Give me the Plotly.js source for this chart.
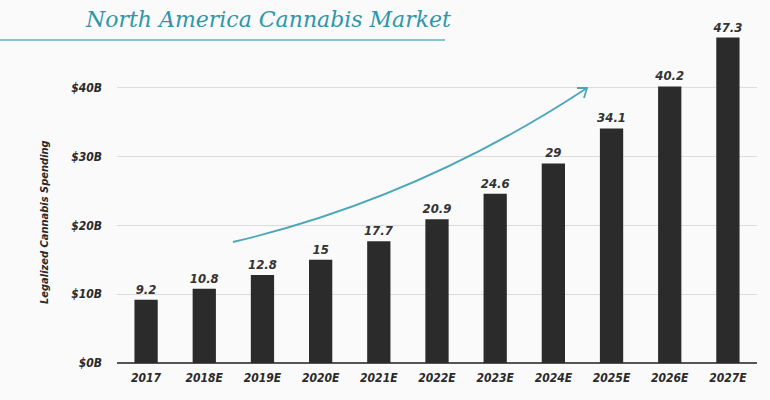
<!DOCTYPE html>
<html><head><meta charset="utf-8">
<script src="https://cdn.plot.ly/plotly-3.0.1.min.js"></script>
<style>html,body{margin:0;padding:0;background:#fafafa;}</style>
</head><body>
<div id="chart" style="width:770px;height:400px;"></div>
<script>
const years = ["2017","2018E","2019E","2020E","2021E","2022E","2023E","2024E","2025E","2026E","2027E"];
const spending = [9.2,10.8,12.8,15,17.7,20.9,24.6,29,34.1,40.2,47.3];
const labels = ["9.2","10.8","12.8","15","17.7","20.9","24.6","29","34.1","40.2","47.3"];
const yTicks = [0,10,20,30,40];
const yTickText = ["$0B","$10B","$20B","$30B","$40B"];

const L=117, R=757, T=19, B=363;
const px = x => (x-L)/(R-L);
const py = y => (B-y)/(B-T);

const fnt = {family:"DejaVu Sans Condensed, Liberation Sans Narrow, sans-serif", weight:"bold", style:"italic", color:"#2a2a2a"};

const curve = `M ${px(233)} ${py(242)} Q ${px(420)} ${py(198)} ${px(587)} ${py(88)}`;
const head = `M ${px(577)} ${py(88)} L ${px(587)} ${py(88)} L ${px(584)} ${py(98)}`;

Plotly.newPlot("chart",[{
  type:"bar", x:years, y:spending, text:labels, textposition:"outside", constraintext:"none",
  textfont:Object.assign({}, fnt, {size:13, color:"#333"}),
  marker:{color:"#2b2b2b"}, cliponaxis:false, hoverinfo:"skip"
}],{
  width:770, height:400,
  margin:{l:L, r:770-R, t:T, b:400-B},
  paper_bgcolor:"#fafafa", plot_bgcolor:"rgba(0,0,0,0)",
  bargap:0.6, showlegend:false,
  xaxis:{type:"category", showgrid:false, zeroline:false, showline:false,
    ticks:"", ticklabelstandoff:6, tickfont:Object.assign({}, fnt, {size:12})},
  yaxis:{range:[0,50], tickvals:yTicks, ticktext:yTickText, showgrid:true,
    gridcolor:"#dcdcdc", gridwidth:1, zeroline:true, zerolinecolor:"#555", zerolinewidth:2,
    ticks:"", ticklabelstandoff:14, tickfont:Object.assign({}, fnt, {size:12})},
  shapes:[
    {type:"line", xref:"paper", yref:"paper", x0:px(0), x1:px(445), y0:py(40), y1:py(40), line:{color:"#5bb3c6", width:1.5}},
    {type:"path", xref:"paper", yref:"paper", path:curve, line:{color:"#4aa6b8", width:1.8}},
    {type:"path", xref:"paper", yref:"paper", path:head, line:{color:"#4aa6b8", width:1.8}}
  ],
  annotations:[
    {xref:"paper", yref:"paper", x:px(268), y:py(19), text:"North America Cannabis Market", showarrow:false,
      font:{family:"DejaVu Serif, serif", style:"italic", size:22, color:"#2c97ab"}, xanchor:"center", yanchor:"middle"},
    {xref:"paper", yref:"paper", x:px(45), y:py(222), text:"Legalized Cannabis Spending", showarrow:false, textangle:-90,
      font:Object.assign({}, fnt, {size:11}), xanchor:"center", yanchor:"middle"}
  ]
},{displayModeBar:false, staticPlot:true});
</script>
</body></html>
